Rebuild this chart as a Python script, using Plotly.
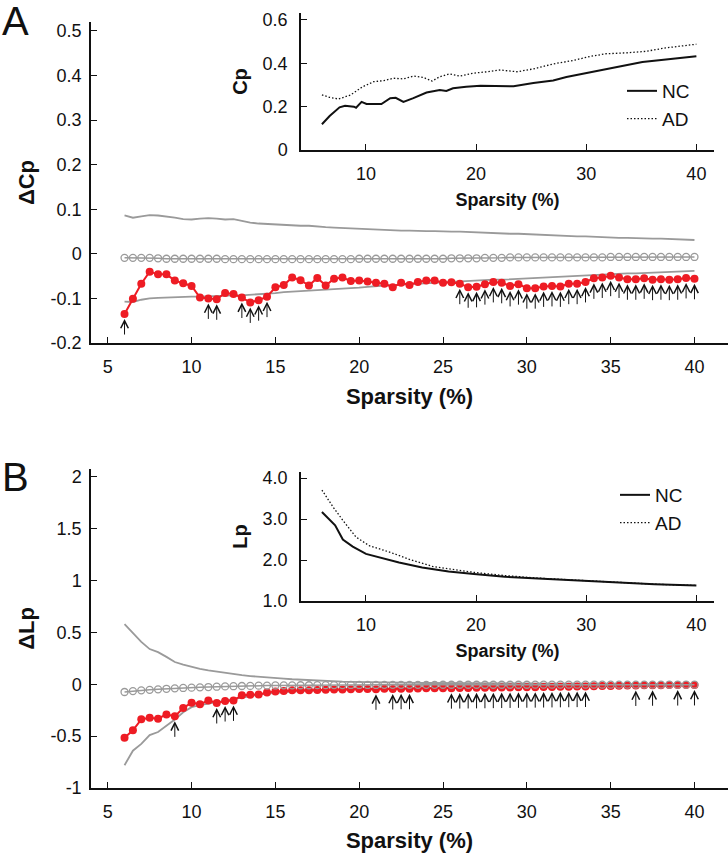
import plotly.graph_objects as go

# ---------------- data ----------------
sparsity = [6 + 0.5 * i for i in range(69)]  # 6 .. 40 step 0.5

# Panel A: delta Cp
dcp_real = [-0.135, -0.101, -0.067, -0.040, -0.046, -0.046, -0.060, -0.066, -0.072, -0.098,
            -0.100, -0.102, -0.088, -0.090, -0.098, -0.109, -0.104, -0.096, -0.075, -0.070,
            -0.053, -0.059, -0.071, -0.054, -0.071, -0.056, -0.053, -0.061, -0.060, -0.062,
            -0.065, -0.067, -0.075, -0.065, -0.070, -0.063, -0.060, -0.060, -0.065, -0.064,
            -0.067, -0.075, -0.074, -0.068, -0.063, -0.065, -0.072, -0.068, -0.077, -0.077,
            -0.073, -0.072, -0.073, -0.067, -0.067, -0.063, -0.055, -0.053, -0.049, -0.053,
            -0.057, -0.057, -0.055, -0.058, -0.057, -0.058, -0.057, -0.054, -0.056]
dcp_rand_mean = [-0.009, -0.009, -0.009, -0.009, -0.010, -0.011, -0.011, -0.011, -0.011, -0.011,
                 -0.011, -0.011, -0.012, -0.012, -0.012, -0.012, -0.012, -0.012, -0.012, -0.012,
                 -0.012, -0.012, -0.012, -0.012, -0.012, -0.012, -0.012, -0.012, -0.011, -0.011,
                 -0.011, -0.011, -0.011, -0.011, -0.011, -0.011, -0.011, -0.011, -0.011, -0.010,
                 -0.010, -0.010, -0.010, -0.009, -0.009, -0.009, -0.008, -0.008, -0.008, -0.008,
                 -0.008, -0.008, -0.008, -0.008, -0.008, -0.008, -0.008, -0.008, -0.007, -0.007,
                 -0.007, -0.007, -0.007, -0.007, -0.007, -0.007, -0.007, -0.007, -0.007]
dcp_upper = [0.086, 0.081, 0.084, 0.087, 0.086, 0.084, 0.081, 0.078, 0.077, 0.079,
             0.080, 0.079, 0.077, 0.078, 0.074, 0.070, 0.068, 0.067, 0.065, 0.064,
             0.064, 0.063, 0.063, 0.061, 0.060, 0.059, 0.058, 0.057, 0.056, 0.055,
             0.055, 0.054, 0.053, 0.052, 0.052, 0.051, 0.051, 0.051, 0.050, 0.050,
             0.050, 0.049, 0.049, 0.048, 0.047, 0.046, 0.045, 0.045, 0.044, 0.043,
             0.042, 0.041, 0.040, 0.039, 0.039, 0.039, 0.038, 0.038, 0.037, 0.036,
             0.036, 0.035, 0.035, 0.034, 0.034, 0.033, 0.033, 0.032, 0.031]
dcp_lower = [-0.107, -0.108, -0.103, -0.100, -0.099, -0.098, -0.097, -0.097, -0.096, -0.096,
             -0.095, -0.095, -0.094, -0.093, -0.093, -0.092, -0.091, -0.090, -0.088, -0.086,
             -0.085, -0.084, -0.083, -0.082, -0.081, -0.080, -0.078, -0.077, -0.076, -0.074,
             -0.072, -0.071, -0.070, -0.069, -0.067, -0.066, -0.065, -0.064, -0.063, -0.063,
             -0.062, -0.061, -0.060, -0.059, -0.058, -0.058, -0.057, -0.056, -0.055, -0.054,
             -0.053, -0.052, -0.051, -0.050, -0.050, -0.049, -0.048, -0.047, -0.046, -0.045,
             -0.044, -0.044, -0.043, -0.042, -0.041, -0.040, -0.040, -0.039, -0.038]
sig_cp = [6, 11, 11.5, 13, 13.5, 14, 14.5,
          26, 26.5, 27, 27.5, 28, 28.5, 29, 29.5, 30, 30.5, 31, 31.5, 32, 32.5, 33, 33.5,
          34, 34.5, 35, 35.5, 36, 36.5, 37, 37.5, 38, 38.5, 39, 39.5, 40]

# Panel B: delta Lp
dlp_real = [-0.515, -0.444, -0.338, -0.322, -0.332, -0.290, -0.309, -0.229, -0.177, -0.193,
            -0.155, -0.180, -0.161, -0.155, -0.106, -0.100, -0.097, -0.080, -0.068, -0.065,
            -0.058, -0.058, -0.056, -0.054, -0.053, -0.051, -0.049, -0.047, -0.045, -0.044,
            -0.048, -0.043, -0.045, -0.042, -0.043, -0.040, -0.039, -0.038, -0.037, -0.037,
            -0.036, -0.035, -0.034, -0.033, -0.032, -0.031, -0.030, -0.029, -0.028, -0.027,
            -0.026, -0.025, -0.024, -0.023, -0.022, -0.021, -0.019, -0.017, -0.015, -0.013,
            -0.012, -0.011, -0.010, -0.009, -0.008, -0.007, -0.007, -0.006, -0.006]
dlp_rand_mean = [-0.074, -0.065, -0.058, -0.053, -0.048, -0.043, -0.039, -0.035, -0.032, -0.029,
                 -0.026, -0.023, -0.020, -0.018, -0.016, -0.015, -0.013, -0.012, -0.011, -0.010,
                 -0.010, -0.009, -0.009, -0.008, -0.008, -0.007, -0.007, -0.006, -0.006, -0.006,
                 -0.006, -0.005, -0.005, -0.005, -0.005, -0.005, -0.005, -0.005, -0.004, -0.004,
                 -0.004, -0.004, -0.004, -0.004, -0.004, -0.004, -0.004, -0.004, -0.004, -0.003,
                 -0.003, -0.003, -0.003, -0.003, -0.003, -0.003, -0.003, -0.003, -0.003, -0.003,
                 -0.003, -0.003, -0.003, -0.003, -0.003, -0.003, -0.003, -0.003, -0.003]
dlp_upper = [0.580, 0.490, 0.410, 0.340, 0.310, 0.265, 0.215, 0.190, 0.168, 0.150,
             0.135, 0.122, 0.110, 0.098, 0.088, 0.080, 0.072, 0.066, 0.061, 0.055,
             0.049, 0.044, 0.040, 0.036, 0.032, 0.029, 0.026, 0.024, 0.022, 0.020,
             0.019, 0.018, 0.017, 0.016, 0.015, 0.014, 0.013, 0.013, 0.012, 0.012,
             0.011, 0.011, 0.010, 0.010, 0.009, 0.009, 0.009, 0.008, 0.008, 0.008,
             0.007, 0.007, 0.007, 0.007, 0.006, 0.006, 0.006, 0.006, 0.006, 0.005,
             0.005, 0.005, 0.005, 0.005, 0.005, 0.004, 0.004, 0.004, 0.004]
dlp_lower = [-0.780, -0.640, -0.575, -0.490, -0.460, -0.400, -0.340, -0.270, -0.220, -0.200,
             -0.185, -0.170, -0.155, -0.140, -0.125, -0.110, -0.100, -0.090, -0.082, -0.076,
             -0.070, -0.066, -0.062, -0.058, -0.055, -0.052, -0.049, -0.047, -0.045, -0.043,
             -0.042, -0.041, -0.040, -0.039, -0.039, -0.038, -0.038, -0.037, -0.036, -0.035,
             -0.034, -0.033, -0.032, -0.031, -0.030, -0.029, -0.028, -0.027, -0.026, -0.025,
             -0.024, -0.023, -0.022, -0.021, -0.020, -0.019, -0.018, -0.017, -0.016, -0.015,
             -0.014, -0.013, -0.012, -0.012, -0.011, -0.011, -0.010, -0.010, -0.009]
sig_lp = [9, 11.5, 12, 12.5, 21, 22, 22.5, 23,
          25.5, 26, 26.5, 27, 27.5, 28, 28.5, 29, 29.5, 30, 30.5, 31, 31.5, 32, 32.5, 33, 33.5,
          36.5, 37.5, 39, 40]

# Inset A: Cp
cp_nc_x = [6, 6.7, 7.6, 8.1, 8.9, 9.1, 9.6, 10.05, 11.4, 12.2, 12.7, 13.4, 14.3, 15.5, 16.7,
           17.3, 17.9, 19.1, 20.4, 22.2, 23.4, 25.2, 27.0, 28.2, 30.0, 31.8, 33.3, 35.1, 36.6,
           38.1, 40]
cp_nc_y = [0.119, 0.157, 0.197, 0.204, 0.200, 0.195, 0.222, 0.212, 0.212, 0.239, 0.241, 0.222,
           0.239, 0.265, 0.277, 0.272, 0.285, 0.292, 0.296, 0.296, 0.294, 0.309, 0.321, 0.337,
           0.355, 0.374, 0.386, 0.406, 0.414, 0.421, 0.433]
cp_ad_x = [6, 6.7, 7.5, 8.6, 9.7, 10.7, 11.6, 12.5, 13.4, 14.3, 15.2, 16.0, 16.7, 17.6, 18.5,
           19.7, 21.0, 22.2, 23.7, 25.2, 27.0, 28.8, 30.3, 31.8, 33.6, 35.4, 37.2, 40]
cp_ad_y = [0.254, 0.243, 0.235, 0.254, 0.292, 0.315, 0.320, 0.331, 0.328, 0.341, 0.335, 0.318,
           0.338, 0.351, 0.341, 0.354, 0.361, 0.369, 0.361, 0.374, 0.397, 0.413, 0.431, 0.444,
           0.448, 0.455, 0.471, 0.488]

# Inset B: Lp
lp_nc_x = [6, 7.2, 7.9, 8.8, 10.0, 11.5, 13.0, 15.1, 17.5, 19.8, 22.6, 25.6, 29.8, 33.2, 36.2, 40]
lp_nc_y = [3.175, 2.85, 2.50, 2.33, 2.15, 2.04, 1.94, 1.82, 1.72, 1.66, 1.59, 1.55, 1.49, 1.45,
           1.41, 1.38]
lp_ad_x = [6, 7.0, 7.9, 9.1, 10.3, 12.2, 14.0, 16.1, 18.2, 19.8, 22.6, 25.6, 29.8, 33.2, 36.2, 40]
lp_ad_y = [3.71, 3.30, 2.97, 2.56, 2.35, 2.19, 2.01, 1.84, 1.76, 1.70, 1.62, 1.56, 1.50, 1.45,
           1.41, 1.38]

main_xticks = [5, 10, 15, 20, 25, 30, 35, 40]
inset_xticks = [10, 20, 30, 40]
dcp_ticks = [-0.2, -0.1, 0, 0.1, 0.2, 0.3, 0.4, 0.5]
dcp_labels = ["-0.2", "-0.1", "0", "0.1", "0.2", "0.3", "0.4", "0.5"]
dlp_ticks = [-1, -0.5, 0, 0.5, 1, 1.5, 2]
dlp_labels = ["-1", "-0.5", "0", "0.5", "1", "1.5", "2"]
cp_ticks = [0, 0.2, 0.4, 0.6]
cp_labels = ["0", "0.2", "0.4", "0.6"]
lp_ticks = [1, 2, 3, 4]
lp_labels = ["1.0", "2.0", "3.0", "4.0"]

# ---------------- style ----------------
W, H = 728, 853
FONT = "Liberation Sans, Arial, sans-serif"
GRAY = "#9a9a9a"
RED = "#ee1c24"
INK = "#111111"
DOTS = "1.5px,2px"


def px_x(a, b):
    return [a / W, b / W]


def px_y(top, bottom):
    return [1 - bottom / H, 1 - top / H]


fig = go.Figure()


def add_panel(xa, ya, real, rand_mean, upper, lower):
    fig.add_trace(go.Scatter(x=sparsity, y=upper, mode="lines", line=dict(color=GRAY, width=1.8),
                             xaxis=xa, yaxis=ya, showlegend=False, hoverinfo="skip"))
    fig.add_trace(go.Scatter(x=sparsity, y=lower, mode="lines", line=dict(color=GRAY, width=1.8),
                             xaxis=xa, yaxis=ya, showlegend=False, hoverinfo="skip"))
    fig.add_trace(go.Scatter(x=sparsity, y=real, mode="lines+markers",
                             line=dict(color=RED, width=2),
                             marker=dict(color=RED, size=8, symbol="circle"),
                             xaxis=xa, yaxis=ya, showlegend=False))
    fig.add_trace(go.Scatter(x=sparsity, y=rand_mean, mode="lines+markers",
                             line=dict(color=GRAY, width=1.5),
                             marker=dict(color=GRAY, size=7, symbol="circle-open",
                                         line=dict(width=1.3, color=GRAY)),
                             xaxis=xa, yaxis=ya, showlegend=False))


add_panel("x", "y", dcp_real, dcp_rand_mean, dcp_upper, dcp_lower)
add_panel("x2", "y2", dlp_real, dlp_rand_mean, dlp_upper, dlp_lower)

# insets
fig.add_trace(go.Scatter(x=cp_nc_x, y=cp_nc_y, mode="lines", name="NC",
                         line=dict(color=INK, width=2), xaxis="x3", yaxis="y3", legend="legend"))
fig.add_trace(go.Scatter(x=cp_ad_x, y=cp_ad_y, mode="lines", name="AD",
                         line=dict(color=INK, width=1.3, dash=DOTS), xaxis="x3", yaxis="y3",
                         legend="legend"))
fig.add_trace(go.Scatter(x=lp_nc_x, y=lp_nc_y, mode="lines", name="NC",
                         line=dict(color=INK, width=2), xaxis="x4", yaxis="y4", legend="legend2"))
fig.add_trace(go.Scatter(x=lp_ad_x, y=lp_ad_y, mode="lines", name="AD",
                         line=dict(color=INK, width=1.3, dash=DOTS), xaxis="x4", yaxis="y4",
                         legend="legend2"))

# significance arrows
annotations = []
lookup_cp = dict(zip(sparsity, dcp_real))
lookup_lp = dict(zip(sparsity, dlp_real))
for s in sig_cp:
    annotations.append(dict(x=s, y=lookup_cp[s], xref="x", yref="y", text="", showarrow=True,
                            ax=0, ay=22, standoff=5, arrowhead=5, arrowsize=1.5, arrowwidth=1,
                            arrowcolor=INK))
for s in sig_lp:
    annotations.append(dict(x=s, y=lookup_lp[s], xref="x2", yref="y2", text="", showarrow=True,
                            ax=0, ay=22, standoff=5, arrowhead=5, arrowsize=1.5, arrowwidth=1,
                            arrowcolor=INK))
annotations.append(dict(x=0.0, y=1.004, xref="paper", yref="paper", text="A", showarrow=False,
                        xanchor="left", yanchor="top", font=dict(family=FONT, size=40, color=INK)))
annotations.append(dict(x=0.0, y=1 - 453 / H, xref="paper", yref="paper", text="B",
                        showarrow=False, xanchor="left", yanchor="top",
                        font=dict(family=FONT, size=40, color=INK)))

tickfont = dict(family=FONT, size=18, color=INK)


def xax(domain, rng, ticks, anchor, title, tsize, standoff):
    return dict(domain=domain, range=rng, tickvals=ticks, ticktext=[str(t) for t in ticks],
                anchor=anchor, showline=True, linecolor=INK, linewidth=1.5, ticks="inside",
                ticklen=6, tickwidth=1.2, tickcolor=INK, showgrid=False, zeroline=False,
                tickfont=tickfont, ticklabelstandoff=7, automargin=False,
                title=dict(text="<b>" + title + "</b>", standoff=standoff,
                           font=dict(family=FONT, size=tsize, color=INK)))


def yax(domain, rng, ticks, labels, anchor, title, tsize, standoff, lstand):
    return dict(domain=domain, range=rng, tickvals=ticks, ticktext=labels, anchor=anchor,
                showline=True, linecolor=INK, linewidth=1.5, ticks="inside", ticklen=6,
                tickwidth=1.2, tickcolor=INK, showgrid=False, zeroline=False, tickfont=tickfont,
                ticklabelstandoff=lstand, automargin=False,
                title=dict(text="<b>" + title + "</b>", standoff=standoff,
                           font=dict(family=FONT, size=tsize, color=INK)))


main_xdom = px_x(91, 728)
inset_xdom = px_x(301, 714)

fig.update_layout(
    width=W, height=H, margin=dict(l=0, r=0, t=0, b=0),
    paper_bgcolor="white", plot_bgcolor="rgba(0,0,0,0)",
    font=dict(family=FONT, color=INK),
    xaxis=xax(main_xdom, [4, 42], main_xticks, "y", "Sparsity (%)", 22, 12),
    yaxis=yax(px_y(22, 343), [-0.2, 0.52], dcp_ticks, dcp_labels, "x", "ΔCp", 22, 10, 4),
    xaxis2=xax(main_xdom, [4, 42], main_xticks, "y2", "Sparsity (%)", 22, 12),
    yaxis2=yax(px_y(468.7, 788), [-1, 2.08], dlp_ticks, dlp_labels, "x2", "ΔLp", 22, 10, 4),
    xaxis3=xax(inset_xdom, [4.1, 41.6], inset_xticks, "y3", "Sparsity (%)", 18, 10),
    yaxis3=yax(px_y(13, 150), [0, 0.632], cp_ticks, cp_labels, "x3", "Cp", 20, 10, 8),
    xaxis4=xax(inset_xdom, [4.1, 41.6], inset_xticks, "y4", "Sparsity (%)", 18, 10),
    yaxis4=yax(px_y(472, 601), [1, 4.15], lp_ticks, lp_labels, "x4", "Lp", 20, 10, 8),
    legend=dict(x=622 / W, y=1 - 72 / H, xanchor="left", yanchor="top",
                bgcolor="rgba(0,0,0,0)", font=dict(family=FONT, size=19, color=INK),
                tracegroupgap=0),
    legend2=dict(x=615 / W, y=1 - 476 / H, xanchor="left", yanchor="top",
                 bgcolor="rgba(0,0,0,0)", font=dict(family=FONT, size=19, color=INK),
                 tracegroupgap=0),
    annotations=annotations,
    showlegend=True,
)

fig.write_html("out.html", config={"displayModeBar": False},
               post_script="document.body.style.margin='0px';"
                           "document.body.style.overflow='hidden';")
